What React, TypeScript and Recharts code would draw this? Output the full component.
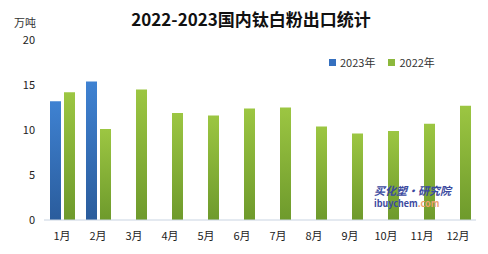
import React from 'react';
import { Bar, BarChart, XAxis, YAxis } from 'recharts';

const months = ['1月', '2月', '3月', '4月', '5月', '6月', '7月', '8月', '9月', '10月', '11月', '12月'];
const exports2023: (number | null)[] = [13.2, 15.4, null, null, null, null, null, null, null, null, null, null];
const exports2022 = [14.2, 10.1, 14.5, 11.9, 11.6, 12.4, 12.5, 10.4, 9.6, 9.9, 10.7, 12.7];
const yTicks = [0, 5, 10, 15, 20];
const seriesNames = ['2023年', '2022年'];

const data = months.map((m, i) => ({ month: m, y2023: exports2023[i], y2022: exports2022[i] }));

const font = '"Noto Sans CJK SC", "Noto Sans", sans-serif';

export default function App() {
  return (
    <div style={{ position: 'relative', width: 488, height: 254, background: '#fff', fontFamily: font }}>
      <style>{'body{margin:0}'}</style>
      <div
        style={{
          position: 'absolute',
          top: 6,
          left: 0,
          width: 502,
          textAlign: 'center',
          fontSize: 17,
          fontWeight: 700,
          color: '#111',
        }}
      >
        2022-2023国内钛白粉出口统计
      </div>
      <div style={{ position: 'absolute', top: 14, left: 14, fontSize: 11, color: '#333' }}>万吨</div>
      <BarChart
        width={488}
        height={254}
        data={data}
        margin={{ top: 40, right: 12, bottom: 0, left: 0 }}
        barSize={11}
        barGap={3}
      >
        <defs>
          <linearGradient id="g2023" x1="0" y1="0" x2="0" y2="1">
            <stop offset="0%" stopColor="#3f82d2" />
            <stop offset="100%" stopColor="#2a5c9c" />
          </linearGradient>
          <linearGradient id="g2022" x1="0" y1="0" x2="0" y2="1">
            <stop offset="0%" stopColor="#9cc642" />
            <stop offset="100%" stopColor="#6e9a2c" />
          </linearGradient>
        </defs>
        <XAxis
          dataKey="month"
          height={34}
          tickLine={false}
          axisLine={{ stroke: '#c9d4e2' }}
          tick={{ fontSize: 11, fill: '#222', fontFamily: font }}
          tickMargin={6}
          interval={0}
        />
        <YAxis
          width={44}
          domain={[0, 20]}
          ticks={yTicks}
          axisLine={false}
          tickLine={false}
          tickSize={0}
          tickMargin={9}
          tick={{ fontSize: 11, fill: '#222', fontFamily: font }}
        />
        <Bar dataKey="y2023" name={seriesNames[0]} fill="url(#g2023)" isAnimationActive={false} />
        <Bar dataKey="y2022" name={seriesNames[1]} fill="url(#g2022)" isAnimationActive={false} />
      </BarChart>
      <div
        style={{
          position: 'absolute',
          top: 55,
          left: 329,
          display: 'flex',
          alignItems: 'center',
          fontSize: 11,
          color: '#333',
          lineHeight: '14px',
        }}
      >
        <span style={{ width: 7, height: 7, background: '#3570bf', marginRight: 4 }} />
        <span style={{ marginRight: 13 }}>{seriesNames[0]}</span>
        <span style={{ width: 7, height: 7, background: '#8cb83c', marginRight: 4 }} />
        <span>{seriesNames[1]}</span>
      </div>
      <div
        style={{
          position: 'absolute',
          top: 184,
          left: 374,
          fontWeight: 700,
          lineHeight: '13px',
          color: '#3b4aa0',
        }}
      >
        <div style={{ fontSize: 11, fontStyle: 'italic' }}>买化塑·研究院</div>
        <div style={{ fontSize: 9 }}>
          ibuychem<span style={{ color: '#f0a070' }}>.com</span>
        </div>
      </div>
    </div>
  );
}
